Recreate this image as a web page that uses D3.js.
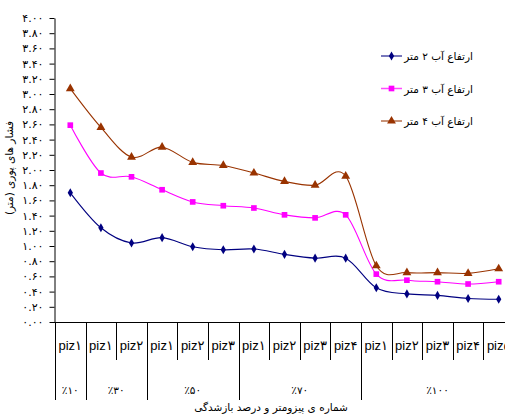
<!DOCTYPE html>
<html>
<head>
<meta charset="utf-8">
<script src="https://cdn.jsdelivr.net/npm/d3@7"></script>
<style>
  html, body { margin: 0; padding: 0; background: #fff; overflow: hidden; }
  svg { display: block; }
  .fa { font-family: "DejaVu Sans", sans-serif; }
</style>
</head>
<body>
<div id="chart"></div>
<script>
// piezometer labels (one per column) and their opening-percentage groups
const categories = ['piz۱', 'piz۱', 'piz۲', 'piz۱', 'piz۲', 'piz۳', 'piz۱', 'piz۲', 'piz۳', 'piz۴', 'piz۱', 'piz۲', 'piz۳', 'piz۴', 'piz۵'];
const groupLabels = ['٪۱۰', '٪۳۰', '٪۵۰', '٪۷۰', '٪۱۰۰'];
const groupSizes  = [1, 2, 3, 4, 5];

const seriesNames = ['ارتفاع آب ۲ متر', 'ارتفاع آب ۳ متر', 'ارتفاع آب ۴ متر'];
const water2m = [1.70, 1.24, 1.04, 1.11, 0.99, 0.95, 0.96, 0.89, 0.84, 0.84, 0.45, 0.37, 0.35, 0.31, 0.30];
const water3m = [2.59, 1.96, 1.91, 1.74, 1.58, 1.53, 1.50, 1.41, 1.37, 1.41, 0.63, 0.55, 0.53, 0.50, 0.53];
const water4m = [3.07, 2.56, 2.17, 2.30, 2.10, 2.06, 1.96, 1.85, 1.80, 1.92, 0.74, 0.65, 0.65, 0.64, 0.70];

const yTicks = d3.range(0, 21).map(i => i * 0.2);

const W = 505, H = 415;
const toFa = s => s.replace(/\d/g, d => '۰۱۲۳۴۵۶۷۸۹'[d]);

const svg = d3.select('#chart').append('svg')
  .attr('width', W).attr('height', H);

const x = d3.scaleBand()
  .domain(d3.range(categories.length))
  .range([55, 514])
  .padding(0);
const y = d3.scaleLinear().domain([0, 4]).range([322, 18]);

// --- Y axis ---
const yAxis = svg.append('g')
  .attr('transform', 'translate(54.5,0)')
  .call(d3.axisLeft(y)
    .tickValues(yTicks)
    .tickSize(5)
    .tickSizeOuter(0)
    .tickPadding(6)
    .tickFormat(d => toFa(d.toFixed(2))));
yAxis.select('.domain').attr('stroke', '#000');
yAxis.selectAll('.tick line').attr('stroke', '#000');
yAxis.selectAll('.tick text')
  .attr('class', 'fa')
  .style('font-size', '11px')
  .attr('fill', '#000');

// y title
svg.append('text')
  .attr('class', 'fa')
  .attr('transform', `translate(13,${(y(0) + y(4)) / 2 - 2}) rotate(-90)`)
  .attr('text-anchor', 'middle')
  .style('font-size', '10.5px')
  .style('direction', 'rtl')
  .text('فشار های پوری (متر)');

// --- X axis (multi-level) ---
const xg = svg.append('g');
xg.append('line')
  .attr('x1', 54).attr('x2', W + 20)
  .attr('y1', y(0) + 0.5).attr('y2', y(0) + 0.5)
  .attr('stroke', '#000');

const groupStarts = groupSizes.map((n, i) => d3.sum(groupSizes.slice(0, i)));
const isGroupEdge = i => groupStarts.includes(i) || i === categories.length;

d3.range(categories.length + 1).forEach(i => {
  const xp = i < categories.length ? x(i) : x(i - 1) + x.bandwidth();
  xg.append('line')
    .attr('x1', Math.round(xp) + 0.5).attr('x2', Math.round(xp) + 0.5)
    .attr('y1', y(0)).attr('y2', isGroupEdge(i) ? 400 : 360)
    .attr('stroke', '#000');
});

xg.selectAll('.cat')
  .data(categories)
  .join('text')
  .attr('class', 'cat')
  .attr('x', (d, i) => x(i) + x.bandwidth() / 2)
  .attr('y', 350)
  .attr('text-anchor', 'middle')
  .style('font-family', '"Liberation Sans", "DejaVu Sans", sans-serif')
  .style('font-size', '13px')
  .text(d => d);

xg.selectAll('.grp')
  .data(groupLabels)
  .join('text')
  .attr('class', 'grp fa')
  .attr('x', (d, i) => {
    const s = groupStarts[i], e = s + groupSizes[i] - 1;
    return (x(s) + x(e) + x.bandwidth()) / 2;
  })
  .attr('y', 394)
  .attr('text-anchor', 'middle')
  .style('font-size', '10.5px')
  .text(d => d);

svg.append('text')
  .attr('class', 'fa')
  .attr('x', 271).attr('y', 411)
  .attr('text-anchor', 'middle')
  .style('font-size', '10.5px')
  .style('direction', 'rtl')
  .text('شماره ی پیزومتر و درصد بازشدگی');

// --- Series ---
const series = [
  { name: seriesNames[0], values: water2m, color: '#000080', marker: d3.symbolDiamond, size: 24 },
  { name: seriesNames[1], values: water3m, color: '#FF00FF', marker: d3.symbolSquare, size: 32 },
  { name: seriesNames[2], values: water4m, color: '#993300', marker: d3.symbolTriangle, size: 34 }
];

const line = d3.line()
  .x((d, i) => x(i) + x.bandwidth() / 2)
  .y(d => y(d))
  .curve(d3.curveCardinal.tension(0));

series.forEach(s => {
  svg.append('path')
    .datum(s.values)
    .attr('d', line)
    .attr('fill', 'none')
    .attr('stroke', s.color)
    .attr('stroke-width', 1.1);
  svg.selectAll(null)
    .data(s.values)
    .join('path')
    .attr('transform', (d, i) => `translate(${x(i) + x.bandwidth() / 2},${y(d)})`)
    .attr('d', d3.symbol(s.marker, s.size))
    .attr('fill', s.color);
});

// --- Legend ---
const legend = svg.append('g');
series.forEach((s, i) => {
  const ly = 56 + i * 32.5;
  legend.append('line')
    .attr('x1', 381).attr('x2', 402)
    .attr('y1', ly).attr('y2', ly)
    .attr('stroke', s.color).attr('stroke-width', 1.5).attr('opacity', 0.7);
  legend.append('path')
    .attr('transform', `translate(391.5,${ly})`)
    .attr('d', d3.symbol(s.marker, s.size))
    .attr('fill', s.color);
  legend.append('text')
    .attr('class', 'fa')
    .attr('x', 473).attr('y', ly + 4)
    .attr('text-anchor', 'start')
    .style('direction', 'rtl')
    .style('font-size', '10.5px')
    .text(s.name);
});
</script>
</body>
</html>
